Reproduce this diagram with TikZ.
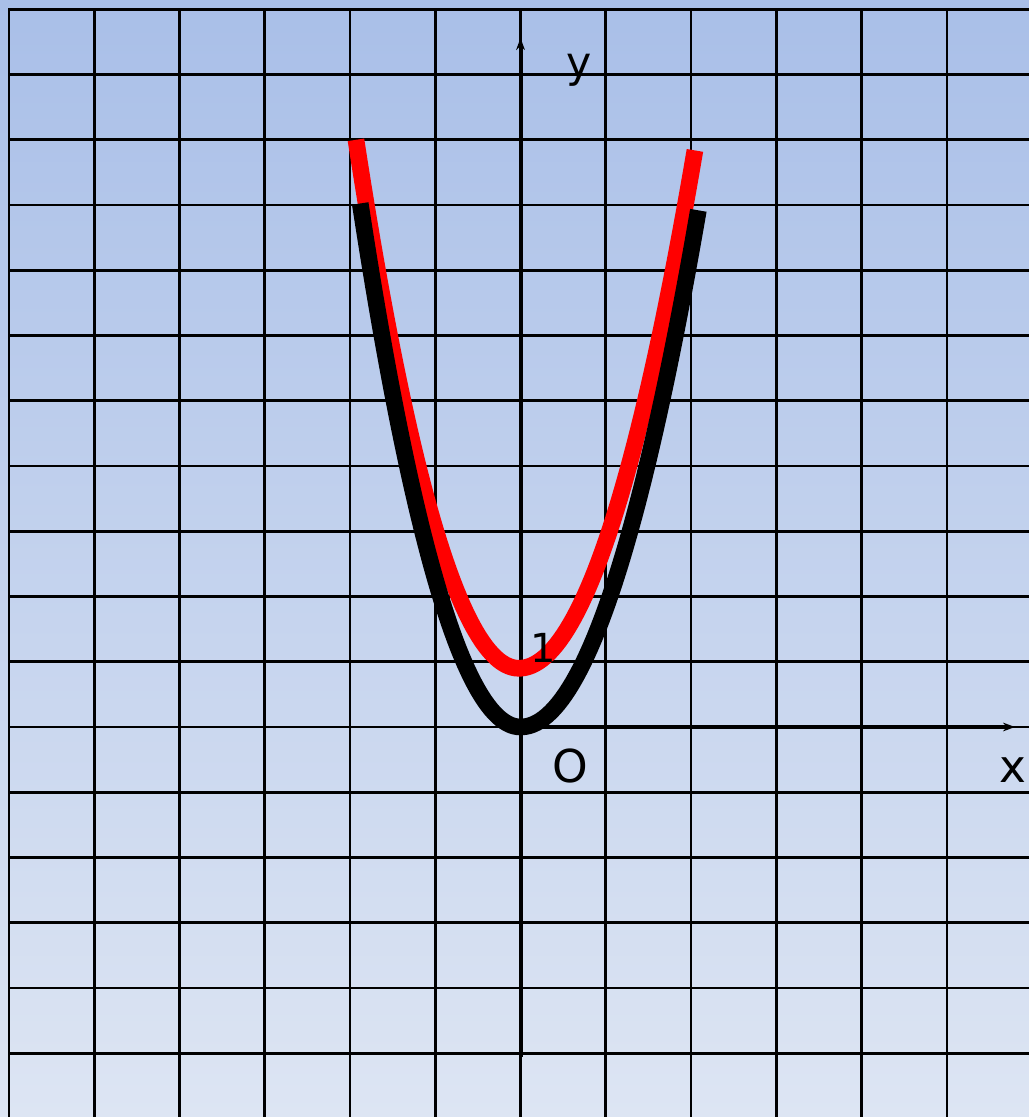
\documentclass[tikz,border=0pt]{standalone}
\usepackage{fontspec}
\setmainfont{DejaVu Sans}
\usetikzlibrary{arrows.meta}
\definecolor{gridTop}{RGB}{169,191,232}
\definecolor{gridBottom}{RGB}{221,229,243}
\definecolor{curveRed}{RGB}{255,0,0}
\tikzset{
  gridline/.style={line width=2pt, line cap=rect},
  axisline/.style={line width=3pt, -{Stealth[length=9pt, width=6.5pt]}},
  curve/.style={line width=12.5pt, line join=round},
  axislabel/.style={anchor=base, font=\fontsize{34}{40}\selectfont}
}

\begin{document}
\begin{tikzpicture}[x=63.95pt, y=48.94pt]
            \useasboundingbox (-6.105,-5.977) rectangle (5.962,11.142);
            \clip (-6.105,-5.977) rectangle (5.962,11.142);
            \shade[top color=gridTop, bottom color=gridBottom] (-6.105,-5.977) rectangle (5.962,11.142);
            \foreach \i in {-6,...,6} \draw[gridline] (\i,11) -- (\i,-6.5);
            \foreach \j in {-5,...,11} \draw[gridline] (-6,\j) -- (6.5,\j);
            \coordinate (O) at (0,0);
            \coordinate (ybot) at (0,-5.06);
            \coordinate (ytop) at (0,10.56);
            \coordinate (xtip) at (5.8,0);
            \draw[axisline] (ybot) -- (ytop);
            \draw[axisline, line width=2.4pt] (O) -- (xtip);
            \draw[curve, curveRed] plot[domain=-1.91:0, samples=50] ({\x-0.02},{0.9+2.22*\x*\x})
                -- plot[domain=0.02:2.066, samples=50] ({\x-0.02},{0.9+1.86*\x*\x});
            \draw[curve] plot[domain=-1.88:0, samples=50] (\x,{2.27*\x*\x})
                -- plot[domain=0.02:2.086, samples=50] (\x,{1.82*\x*\x});
            \node[axislabel, font=\fontsize{32}{38}\selectfont] (ylabel) at (0.685,9.95) {y};
            \node[axislabel] (xlabel) at (5.78,-0.843) {x};
            \node[axislabel] (olabel) at (0.58,-0.858) {O};
            \node[axislabel, font=\fontsize{30}{36}\selectfont] (onelabel) at (0.263,0.996) {1};
        \end{tikzpicture}
\end{document}
